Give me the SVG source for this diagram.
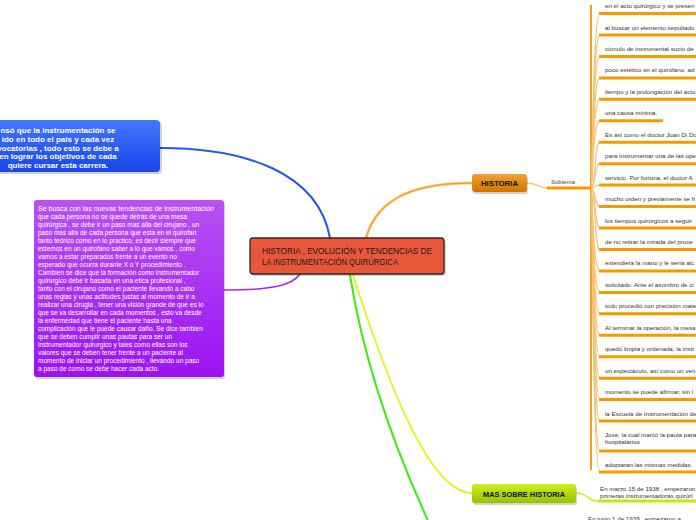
<svg xmlns="http://www.w3.org/2000/svg" width="696" height="520" viewBox="0 0 696 520">
<defs>
<linearGradient id="gBlue" x1="0" y1="0" x2="0" y2="1"><stop offset="0" stop-color="#4277f7"/><stop offset="1" stop-color="#1846ec"/></linearGradient>
<linearGradient id="gPurple" x1="0" y1="0" x2="0" y2="1"><stop offset="0" stop-color="#b852f2"/><stop offset="1" stop-color="#9b12f4"/></linearGradient>
<linearGradient id="gOrange" x1="0" y1="0" x2="0" y2="1"><stop offset="0" stop-color="#f2a431"/><stop offset="1" stop-color="#cf7400"/></linearGradient>
<linearGradient id="gLime" x1="0" y1="0" x2="0" y2="1"><stop offset="0" stop-color="#cfee22"/><stop offset="1" stop-color="#94c400"/></linearGradient>
</defs>
<style>
.cn{fill:none;stroke-linecap:round}
.sub{fill:none;stroke:#f7c27a;stroke-width:1.2}
.ul{stroke:#f59b00;stroke-width:3;fill:none}
.it{font-family:"Liberation Sans",Arial,sans-serif;font-size:6.2px;fill:#333}
.nodeT{font-family:"Liberation Sans",Arial,sans-serif;font-weight:bold;fill:#111;text-anchor:middle}
.wt{font-family:"Liberation Sans",Arial,sans-serif;fill:#fff}
.sh{fill:#000;opacity:0.18}
</style>
<rect width="696" height="520" fill="#fff"/>
<g id="connectors">
<path class="cn" d="M160,148 C245,148 318,172 330,238" stroke="#2357f0" stroke-width="2"/>
<path class="cn" d="M224,290 C270,290 292,286 300,274" stroke="#a626ee" stroke-width="1.5"/>
<path class="cn" d="M366,238 C378,195 420,183 472,183" stroke="#fbd49a" stroke-width="3"/>
<path class="cn" d="M366,238 C378,195 420,183 472,183" stroke="#f5a219" stroke-width="1.3"/>
<path class="cn" d="M353,275 C390,390 430,492 472,493" stroke="#e6f21a" stroke-width="1.8"/>
<path class="cn" d="M350,275 C365,370 400,460 430,525" stroke="#3aee10" stroke-width="2"/>
<path class="cn" d="M527,183 C538,183 538,188 548,188" stroke="#f7c27a" stroke-width="1.5"/>
<line x1="547" y1="188" x2="591" y2="188" stroke="#f59b00" stroke-width="3"/>
<path class="cn" d="M576,493 C588,493 588,501 598,501" stroke="#d4ec1a" stroke-width="1.5"/>
<line x1="598" y1="501" x2="700" y2="501" stroke="#c8e612" stroke-width="3"/>
<g id="subtema-links">
<line x1="591" y1="5" x2="591" y2="470" stroke="#f5a219" stroke-width="2"/>
<path class="sub" d="M591,188 C593,188 592,13.5 600,13.5"/>
<path class="sub" d="M591,188 C593,188 592,35 600,35"/>
<path class="sub" d="M591,188 C593,188 592,56.4 600,56.4"/>
<path class="sub" d="M591,188 C593,188 592,77.9 600,77.9"/>
<path class="sub" d="M591,188 C593,188 592,99.3 600,99.3"/>
<path class="sub" d="M591,188 C593,188 592,120.8 600,120.8"/>
<path class="sub" d="M591,188 C596,188 594,142.2 600,142.2"/>
<path class="sub" d="M591,188 C596,188 594,163.7 600,163.7"/>
<path class="sub" d="M591,188 C596,188 594,185.1 600,185.1"/>
<path class="sub" d="M591,188 C596,188 594,206.6 600,206.6"/>
<path class="sub" d="M591,188 C596,188 594,228 600,228"/>
<path class="sub" d="M591,188 C596,188 594,249.5 600,249.5"/>
<path class="sub" d="M591,188 C593,188 592,270.9 600,270.9"/>
<path class="sub" d="M591,188 C593,188 592,292.4 600,292.4"/>
<path class="sub" d="M591,188 C593,188 592,313.8 600,313.8"/>
<path class="sub" d="M591,188 C593,188 592,335.3 600,335.3"/>
<path class="sub" d="M591,188 C593,188 592,356.7 600,356.7"/>
<path class="sub" d="M591,188 C593,188 592,378.2 600,378.2"/>
<path class="sub" d="M591,188 C593,188 592,399.6 600,399.6"/>
<path class="sub" d="M591,188 C593,188 592,421.1 600,421.1"/>
<path class="sub" d="M591,188 C593,188 592,451 600,451"/>
<path class="sub" d="M591,188 C593,188 592,472 600,472"/>
</g>
</g>
<g id="node-blue">
<rect class="sh" x="-10" y="122" width="172" height="52" rx="4"/>
<rect x="-10" y="120" width="170" height="52" rx="4" fill="url(#gBlue)"/>
<g class="wt" font-weight="bold" font-size="8" text-anchor="middle">
<text x="58" y="133">nsó que la instrumentación se</text>
<text x="58" y="141.8">ido en todo el pais y cada vez</text>
<text x="58" y="150.6">vocatorias , todo esto se debe a</text>
<text x="58" y="159.4">en lograr los objetivos de cada</text>
<text x="58" y="168.2">quiere cursar esta carrera.</text>
</g>
</g>
<g id="node-purple">
<rect class="sh" x="35" y="202" width="190" height="177" rx="3"/>
<rect x="34" y="200" width="190" height="177" rx="3" fill="url(#gPurple)"/>
<g class="wt" font-size="6.5">
<text x="38" y="211" textLength="176" lengthAdjust="spacingAndGlyphs">Se busca con las nuevas tendencias de instrumentación</text>
<text x="38" y="219">que cada persona no se quede detrás de una mesa</text>
<text x="38" y="227">quirúrgica , se debe ir un paso mas alla del cirujano , un</text>
<text x="38" y="235">paso mas alla de cada persona que esta en el quirofan</text>
<text x="38" y="243">tanto  teórico como en lo practico, es decir siempre que</text>
<text x="38" y="251">estemos en un quirofano saber a lo que vamos , como</text>
<text x="38" y="259">vamos a estar preparados frente a un evento no</text>
<text x="38" y="267">esperado que ocurra durante X o Y procedimiento .</text>
<text x="38" y="275">Cambien se dice que la formación como instrumentador</text>
<text x="38" y="283">quirúrgico debe ir basada en una etica profesional ,</text>
<text x="38" y="291">tanto con el cirujano como el paciente llevando a cabo</text>
<text x="38" y="299">unas reglas y unas actitudes justas al momento de ir a</text>
<text x="38" y="307">realizar una cirugia , tener una visión grande de que es lo</text>
<text x="38" y="315">que se va desarrollar en cada momentos , esto va desde</text>
<text x="38" y="323">la enfermedad que tiene el paciente hasta una</text>
<text x="38" y="331">complicación que le puede causar daño. Se dice tambien</text>
<text x="38" y="339">que se deben cumplir unas pautas para ser un</text>
<text x="38" y="347">instrumentador quirurgico y tales como ellas son los</text>
<text x="38" y="355">valores que se deben tener frente a un paciente al</text>
<text x="38" y="363">momento de iniciar un procedimiento , llevando un paso</text>
<text x="38" y="371">a paso de como se debe hacer cada acto.</text>
</g>
</g>
<g id="node-central">
<rect class="sh" x="252" y="240" width="194" height="36" rx="3"/>
<rect x="250" y="238" width="194" height="36" rx="3" fill="#e9573b" stroke="#2a2a2a" stroke-width="1.3"/>
<text x="262" y="253.5" font-family="Liberation Sans,Arial,sans-serif" font-size="9.2" fill="#1a1a1a" textLength="170" lengthAdjust="spacingAndGlyphs">HISTORIA , EVOLUCIÓN Y TENDENCIAS DE</text>
<text x="262" y="265" font-family="Liberation Sans,Arial,sans-serif" font-size="9.2" fill="#1a1a1a" textLength="136" lengthAdjust="spacingAndGlyphs">LA INSTRUMENTACIÓN QUIRÚRGICA</text>
</g>
<g id="node-historia">
<rect class="sh" x="473" y="176" width="55" height="18" rx="3"/>
<rect x="472" y="174" width="55" height="18" rx="3" fill="url(#gOrange)"/>
<text class="nodeT" x="499.5" y="186" font-size="7.8">HISTORIA</text>
</g>
<g id="label-subtema">
<text x="551" y="184" font-family="Liberation Sans,Arial,sans-serif" font-size="6" fill="#444">Subtema</text>
</g>
<g id="node-mas">
<rect class="sh" x="473" y="486" width="104" height="19" rx="3"/>
<rect x="472" y="484" width="104" height="19" rx="3" fill="url(#gLime)"/>
<text class="nodeT" x="524" y="496.5" font-size="7.4">MAS SOBRE HISTORIA</text>
</g>
<g id="subtema-items">
<g class="ul">
<line x1="599" y1="13.5" x2="700" y2="13.5"/>
<line x1="599" y1="35" x2="700" y2="35"/>
<line x1="599" y1="56.4" x2="700" y2="56.4"/>
<line x1="599" y1="77.9" x2="700" y2="77.9"/>
<line x1="599" y1="99.3" x2="700" y2="99.3"/>
<line x1="599" y1="120.8" x2="663" y2="120.8"/>
<line x1="599" y1="142.2" x2="700" y2="142.2"/>
<line x1="599" y1="163.7" x2="700" y2="163.7"/>
<line x1="599" y1="185.1" x2="700" y2="185.1"/>
<line x1="599" y1="206.6" x2="700" y2="206.6"/>
<line x1="599" y1="228" x2="700" y2="228"/>
<line x1="599" y1="249.5" x2="700" y2="249.5"/>
<line x1="599" y1="270.9" x2="700" y2="270.9"/>
<line x1="599" y1="292.4" x2="700" y2="292.4"/>
<line x1="599" y1="313.8" x2="700" y2="313.8"/>
<line x1="599" y1="335.3" x2="700" y2="335.3"/>
<line x1="599" y1="356.7" x2="700" y2="356.7"/>
<line x1="599" y1="378.2" x2="700" y2="378.2"/>
<line x1="599" y1="399.6" x2="700" y2="399.6"/>
<line x1="599" y1="421.1" x2="700" y2="421.1"/>
<line x1="599" y1="451" x2="700" y2="451"/>
<line x1="599" y1="472" x2="700" y2="472"/>
</g>
<text class="it" x="605" y="8">en el acto quirúrgico y se presen</text>
<text class="it" x="605" y="29.5">al buscar un elemento sepultado</text>
<text class="it" x="605" y="51">cúmulo de instrumental sucio de</text>
<text class="it" x="605" y="72.4">poco estético en el quirófano, ad</text>
<text class="it" x="605" y="93.8">tiempo y la prolongación del acto</text>
<text class="it" x="605" y="115.3">una causa mínima.</text>
<text class="it" x="605" y="136.7">Es así como el doctor Juan Di Do</text>
<text class="it" x="605" y="158.2">para instrumentar una de las ope</text>
<text class="it" x="605" y="179.6">servicio. Por fortuna, el doctor A</text>
<text class="it" x="605" y="201.1">mucho orden y previamente se h</text>
<text class="it" x="605" y="222.5">los tiempos quirúrgicos a seguir</text>
<text class="it" x="605" y="244">de no retirar la mirada del proce</text>
<text class="it" x="605" y="265.4">extendiera la mano y le sería alc</text>
<text class="it" x="605" y="286.9">solicitado. Ante el asombro de ci</text>
<text class="it" x="605" y="308.3">todo procedió con precisión mate</text>
<text class="it" x="605" y="329.8">Al terminar la operación, la mesa</text>
<text class="it" x="605" y="351.2">quedó limpia y ordenada; la instr</text>
<text class="it" x="605" y="372.7">un espectáculo, así como un ven</text>
<text class="it" x="605" y="394.1">momento se puede afirmar, sin l</text>
<text class="it" x="605" y="415.6">la Escuela de Instrumentación de</text>
<text class="it" x="605" y="437">José, la cual marcó la pauta para</text>
<text class="it" x="605" y="444">hospitalarios</text>
<text class="it" x="605" y="466.5">adoptaran las mismas medidas.</text>
</g>
<g id="mas-items">
<text class="it" x="600" y="491">En marzo 15 de 1938 , empezaron</text>
<text class="it" x="600" y="498">primeras instrumentadoras quirúrl</text>
<text class="it" x="588" y="521">En junio 1 de 1939 , empezaron a</text>
</g>
</svg>
